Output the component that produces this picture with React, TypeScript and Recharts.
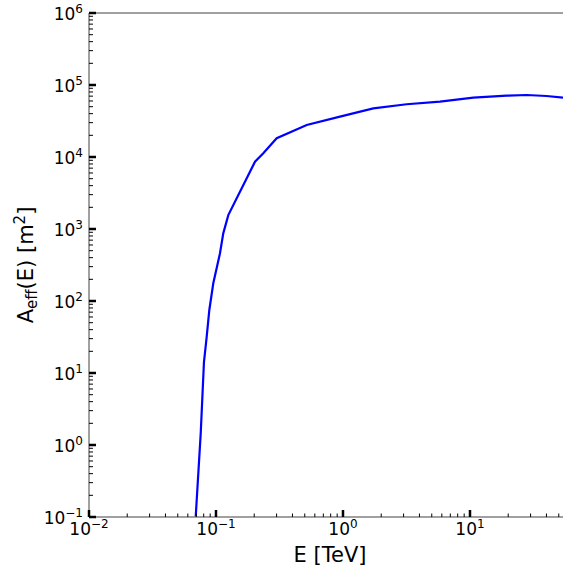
import React from 'react';
import { LineChart, Line, XAxis, YAxis, ReferenceLine } from 'recharts';

// Effective area curve
const ENERGY_TEV = [
  0.0692, 0.0758, 0.0804, 0.0845, 0.0886, 0.0952, 0.1075, 0.1141, 0.125, 0.2028,
  0.2357, 0.3006, 0.518, 0.947, 1.732, 3.17, 5.8, 10.62, 19.45, 27.9, 40.1, 54,
];
const AEFF_M2 = [
  0.1, 1.45, 14.2, 32, 75, 176, 460, 870, 1560, 8610, 11250, 18200, 27800, 36300,
  47400, 54000, 58600, 66700, 71000, 72600, 70300, 66700,
];

const X_DECADES = [0.01, 0.1, 1, 10];
const Y_DECADES = [0.1, 1, 10, 100, 1000, 10000, 100000];
const Y_TOP = 1000000;
const MINOR_MULTIPLIERS = [1, 2, 3, 4, 5, 6, 7, 8, 9];
const X_DOMAIN: [number, number] = [0.01, 54];
const Y_DOMAIN: [number, number] = [0.1, Y_TOP];

const X_LABEL = 'E [TeV]';

const data = ENERGY_TEV.map((e, i) => ({ e, a: AEFF_M2[i] }));

const X_TICKS = X_DECADES.flatMap((d) => MINOR_MULTIPLIERS.map((m) => d * m)).filter(
  (v) => v <= X_DOMAIN[1]
);
const Y_TICKS = [...Y_DECADES.flatMap((d) => MINOR_MULTIPLIERS.map((m) => d * m)), Y_TOP];

const FONT = '"DejaVu Sans", sans-serif';
const SPINE = '#808080';

function decadeExp(v: number): number | null {
  const ex = Math.log10(v);
  const r = Math.round(ex);
  return Math.abs(ex - r) < 1e-6 ? r : null;
}

function expText(n: number) {
  return n < 0 ? '\u2212' + Math.abs(n) : String(n);
}

const XTick = (props: any) => {
  const { x, y, payload } = props;
  const ex = decadeExp(payload.value);
  const major = ex !== null;
  return (
    <g>
      <line
        x1={x}
        x2={x}
        y1={y}
        y2={y - (major ? 7 : 3.5)}
        stroke="#000"
        strokeWidth={major ? 2.5 : 1}
      />
      {major && (
        <text x={x} y={y + 18} textAnchor="middle" fontFamily={FONT} fontSize={17} fill="#000">
          10
          <tspan dy={-7} fontSize={12}>
            {expText(ex as number)}
          </tspan>
        </text>
      )}
    </g>
  );
};

const YTick = (props: any) => {
  const { x, y, payload } = props;
  const ex = decadeExp(payload.value);
  const major = ex !== null;
  return (
    <g>
      <line
        x1={x}
        x2={x + (major ? 7 : 4)}
        y1={y}
        y2={y}
        stroke="#000"
        strokeWidth={major ? 2.5 : 1}
      />
      {major && (
        <text x={x - 6} y={y + 7} textAnchor="end" fontFamily={FONT} fontSize={17} fill="#000">
          10
          <tspan dy={-7} fontSize={12}>
            {expText(ex as number)}
          </tspan>
        </text>
      )}
    </g>
  );
};

export default function App() {
  return (
    <div style={{ position: 'absolute', left: 0, top: 0, width: 563, height: 569, background: '#fff' }}>
      <LineChart
        width={563}
        height={569}
        data={data}
        margin={{ top: 13, right: 0, bottom: 0, left: 0 }}
      >
        <XAxis
          dataKey="e"
          type="number"
          scale="log"
          domain={X_DOMAIN}
          allowDataOverflow
          ticks={X_TICKS}
          interval={0}
          height={52}
          tickSize={0}
          tickMargin={0}
          tickLine={false}
          axisLine={{ stroke: SPINE, strokeWidth: 1.5 }}
          tick={(p: any) => <XTick {...p} />}
        />
        <YAxis
          dataKey="a"
          type="number"
          scale="log"
          domain={Y_DOMAIN}
          allowDataOverflow
          ticks={Y_TICKS}
          interval={0}
          width={89}
          tickSize={0}
          tickMargin={0}
          tickLine={false}
          axisLine={{ stroke: SPINE, strokeWidth: 1.5 }}
          tick={(p: any) => <YTick {...p} />}
        />
        <ReferenceLine y={Y_TOP} stroke={SPINE} strokeWidth={1.5} />
        <Line
          type="linear"
          dataKey="a"
          stroke="#0000ff"
          strokeWidth={2.2}
          dot={false}
          isAnimationActive={false}
        />
      </LineChart>
      <svg
        width={563}
        height={569}
        style={{ position: 'absolute', left: 0, top: 0, pointerEvents: 'none' }}
      >
        <text x={330} y={561.5} textAnchor="middle" fontFamily={FONT} fontSize={21} fill="#000">
          {X_LABEL}
        </text>
        <text
          x={33}
          y={265}
          transform="rotate(-90, 33, 265)"
          textAnchor="middle"
          fontFamily={FONT}
          fontSize={21}
          fill="#000"
        >
          A
          <tspan dy={4} fontSize={15}>
            eff
          </tspan>
          <tspan dy={-4}>(E) [m</tspan>
          <tspan dy={-8} fontSize={15}>
            2
          </tspan>
          <tspan dy={8}>]</tspan>
        </text>
      </svg>
    </div>
  );
}
